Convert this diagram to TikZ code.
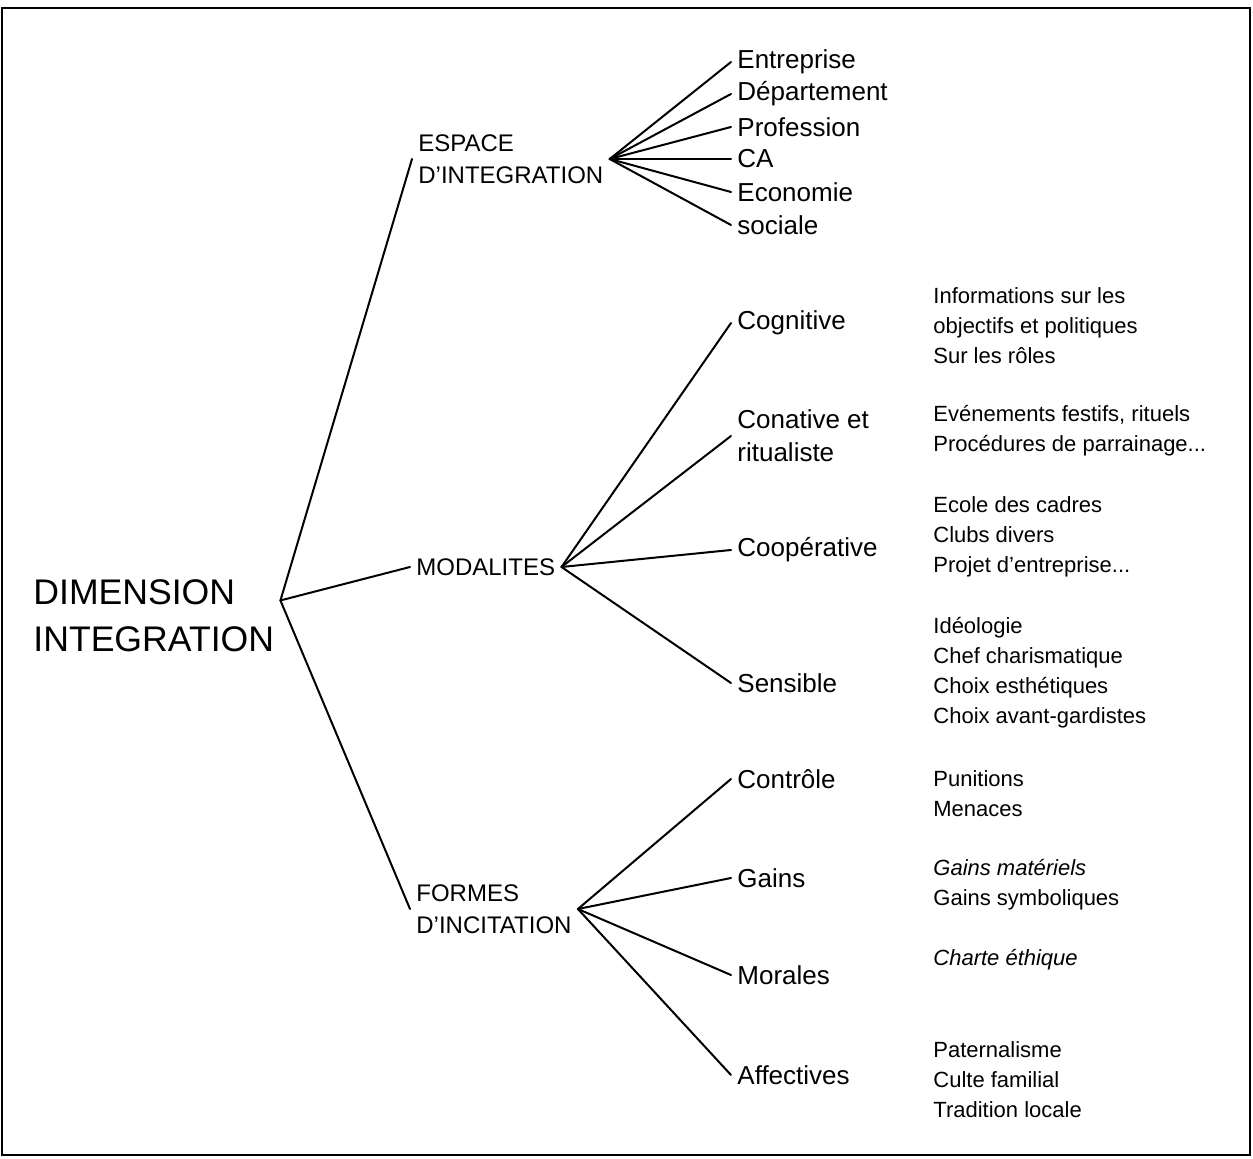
\documentclass[tikz,border=0pt]{standalone}
\usepackage{fontspec}
\setmainfont{Liberation Sans}
\usepackage{tikz}
\usetikzlibrary{positioning}

\begin{document}
\begin{tikzpicture}[x=0.5pt, y=-0.5pt,
    rootlabel/.style={anchor=west, align=left, inner sep=3pt, font=\fontsize{17.8}{23.5}\selectfont},
    midlabel/.style={anchor=west, align=left, inner sep=3pt, font=\fontsize{12}{16}\selectfont},
    leaflabel/.style={anchor=west, align=left, inner sep=3pt, font=\fontsize{13}{16.3}\selectfont},
    detaillabel/.style={anchor=west, align=left, inner sep=0pt, font=\fontsize{11}{15}\selectfont},
    branch/.style={line width=1pt, line cap=round}]
    \useasboundingbox (0,0) rectangle (1253,1159);
    \draw[line width=0.8pt] (2,8) rectangle (1250,1155);

    \node[rootlabel] (root) at (27,616) {DIMENSION\\INTEGRATION};
    \node[midlabel] (espace) at (412,159) {ESPACE\\D'INTEGRATION};
    \node[midlabel] (modal) at (410,567) {MODALITES};
    \node[midlabel] (formes) at (410,909) {FORMES\\D'INCITATION};

    \node[leaflabel] (entreprise) at (731,62) {Entreprise};
    \node[leaflabel] (departement) at (731,94) {Département};
    \node[leaflabel] (profession) at (731,127) {Profession};
    \node[leaflabel] (ca) at (731,159) {CA};
    \node[leaflabel] (economie) at (731,192) {Economie};
    \node[leaflabel] (sociale) at (731,225) {sociale};

    \node[leaflabel] (cognitive) at (731,323) {Cognitive};
    \node[leaflabel] (conative) at (731,436) {Conative et\\ritualiste};
    \node[leaflabel] (cooperative) at (731,550) {Coopérative};
    \node[leaflabel] (sensible) at (731,683) {Sensible};

    \node[leaflabel] (controle) at (731,779) {Contrôle};
    \node[leaflabel] (gains) at (731,878) {Gains};
    \node[leaflabel] (morales) at (731,975) {Morales};
    \node[leaflabel] (affectives) at (731,1075) {Affectives};

    \node[detaillabel] (infos) at (933,326) {Informations sur les\\objectifs et politiques\\Sur les rôles};
    \node[detaillabel] (evenements) at (933,431) {Evénements festifs, rituels\\Procédures de parrainage...};
    \node[detaillabel] (ecole) at (933,537) {Ecole des cadres\\Clubs divers\\Projet d'entreprise...};
    \node[detaillabel] (ideologie) at (933,673) {Idéologie\\Chef charismatique\\Choix esthétiques\\Choix avant-gardistes};
    \node[detaillabel] (punitions) at (933,794) {Punitions\\Menaces};
    \node[detaillabel] (gainsmat) at (933,885) {\textit{Gains matériels}\\Gains symboliques};
    \node[detaillabel] (charte) at (933,960) {\textit{Charte éthique}};
    \node[detaillabel] (paternalisme) at (933,1080) {Paternalisme\\Culte familial\\Tradition locale};

    \foreach \mid in {espace,modal,formes}
        \draw[branch] (root.7) -- (\mid.west);
    \foreach \leaf in {entreprise,departement,profession,ca,economie,sociale}
        \draw[branch] (espace.east) -- (\leaf.west);
    \foreach \leaf in {cognitive,conative,cooperative,sensible}
        \draw[branch] (modal.east) -- (\leaf.west);
    \foreach \leaf in {controle,gains,morales,affectives}
        \draw[branch] (formes.east) -- (\leaf.west);
\end{tikzpicture}
\end{document}
